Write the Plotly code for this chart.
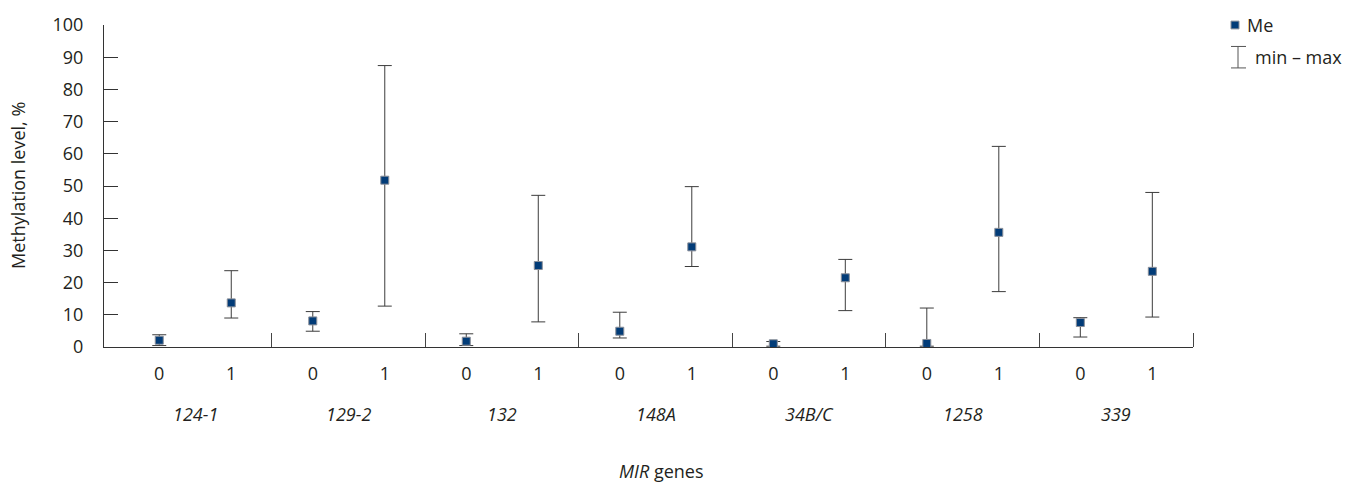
import plotly.graph_objects as go

genes = ["124-1", "129-2", "132", "148A", "34B/C", "1258", "339"]
groups = ["0", "1"]
me = [2.1, 13.7, 8.1, 51.8, 1.8, 25.3, 4.9, 31.1, 1.0, 21.5, 1.1, 35.6, 7.6, 23.5]
mins = [0.45, 9.0, 4.9, 12.7, 0.45, 7.8, 2.8, 25.0, 0.25, 11.3, 0.25, 17.2, 3.1, 9.3]
maxs = [3.8, 23.7, 11.0, 87.4, 4.1, 47.1, 10.8, 49.8, 1.7, 27.2, 12.1, 62.3, 9.1, 48.0]
y_ticks = list(range(0, 101, 10))

TXT = "#231f20"
FONT = "Open Sans"
FS = 18
L, R, T, B = 104, 168, 17, 141
W, H = 1361, 488
PW = W - L - R
PH = H - T - B

offsets = [0.266, 0.735]
xs = []
xlab = []
for gi, g in enumerate(genes):
    for k, grp in enumerate(groups):
        xs.append(gi + offsets[k])
        xlab.append(grp)

fig = go.Figure()
fig.add_trace(go.Scatter(
    x=xs, y=me, mode="markers",
    marker=dict(symbol="square", size=8, color="#023c78",
                line=dict(color="#8a8f99", width=1)),
    error_y=dict(type="data", symmetric=False,
                 array=[h - m for h, m in zip(maxs, me)],
                 arrayminus=[m - l for m, l in zip(me, mins)],
                 width=7, thickness=1, color="#3c3c3c"),
    showlegend=False, hoverinfo="skip",
))

fig.update_layout(
    width=W, height=H,
    margin=dict(l=L, r=R, t=T, b=B, pad=0),
    paper_bgcolor="white", plot_bgcolor="white",
    font=dict(family=FONT, size=FS, color=TXT),
    xaxis=dict(
        range=[-0.094, 7.0], showgrid=False, zeroline=False,
        showline=True, linecolor="#333333", linewidth=1,
        tickmode="array", tickvals=xs, ticktext=xlab, ticks="",
        ticklabelstandoff=10,
        tickfont=dict(family=FONT, size=FS, color=TXT),
        minor=dict(tickmode="array", tickvals=list(range(1, len(genes) + 1)),
                   ticks="inside", ticklen=14, tickcolor="#444444", tickwidth=1,
                   showgrid=False),
    ),
    yaxis=dict(
        range=[0, 100], showgrid=False, zeroline=False,
        showline=True, linecolor="#333333", linewidth=1,
        tickmode="array", tickvals=y_ticks, ticks="inside", ticklen=14,
        tickcolor="#333333", tickwidth=1,
        ticklabelstandoff=16,
        tickfont=dict(family=FONT, size=FS, color=TXT),
    ),
)

def px_x(p):
    return (p - L) / PW

def px_y(p):
    return (H - B - p) / PH

ann = []
for gi, g in enumerate(genes):
    ann.append(dict(x=gi + 0.5, xref="x", y=px_y(416), yref="paper",
                    text="<i>" + g + "</i>", showarrow=False,
                    xanchor="center", yanchor="middle",
                    font=dict(family=FONT, size=FS, color=TXT)))
ann.append(dict(x=px_x(661), xref="paper", y=px_y(474), yref="paper",
                text="<i>MIR</i> genes", showarrow=False,
                xanchor="center", yanchor="middle",
                font=dict(family=FONT, size=FS, color=TXT)))
ann.append(dict(x=px_x(18), xref="paper", y=px_y(182), yref="paper",
                text="Methylation level, %", textangle=-90, showarrow=False,
                xanchor="center", yanchor="middle",
                font=dict(family=FONT, size=FS, color=TXT)))
# legend texts
ann.append(dict(x=px_x(1245), xref="paper", y=px_y(17), yref="paper",
                text="Me", showarrow=False, xanchor="left", yanchor="middle",
                font=dict(family=FONT, size=FS, color=TXT)))
ann.append(dict(x=px_x(1253), xref="paper", y=px_y(50), yref="paper",
                text="min – max", showarrow=False, xanchor="left", yanchor="middle",
                font=dict(family=FONT, size=FS, color=TXT)))
fig.update_layout(annotations=ann)

shapes = [
    dict(type="rect", xref="paper", yref="paper",
         x0=px_x(1231), x1=px_x(1239), y0=px_y(13), y1=px_y(21),
         fillcolor="#023c78", line=dict(color="#8a8f99", width=1)),
    dict(type="line", xref="paper", yref="paper",
         x0=px_x(1238), x1=px_x(1238), y0=px_y(39), y1=px_y(61),
         line=dict(color="#555555", width=1)),
    dict(type="line", xref="paper", yref="paper",
         x0=px_x(1231), x1=px_x(1246), y0=px_y(39), y1=px_y(39),
         line=dict(color="#555555", width=1)),
    dict(type="line", xref="paper", yref="paper",
         x0=px_x(1231), x1=px_x(1246), y0=px_y(61), y1=px_y(61),
         line=dict(color="#555555", width=1)),
]
fig.update_layout(shapes=shapes)

fig.write_html("out.html")
